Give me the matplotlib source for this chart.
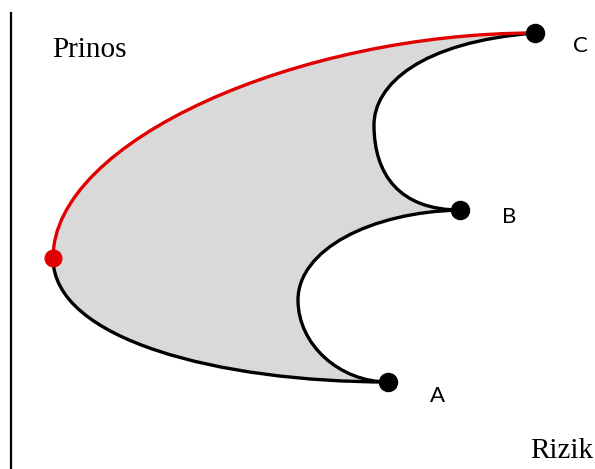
import matplotlib
matplotlib.use('Agg')
import matplotlib.pyplot as plt
from matplotlib.path import Path
from matplotlib.patches import PathPatch

# rizik (x) i prinos (y), procitano sa slike
assets = ['A', 'B', 'C']
asset_risk = [388, 460, 535]
asset_return = [87, 259, 436]
mv_risk = 53
mv_return = 211

# kontrolne tocke krivulja (kubni bezier: start, c1, c2, kraj)
upper_frontier = [[(53, 211), (53, 329), (300, 436), (535, 436)]]
lower_frontier = [[(53, 211), (53, 129), (220, 87), (388, 87)]]
ab_curve = [[(388, 87), (340, 87), (298, 124), (298, 169)],
            [(298, 169), (298, 219), (370, 257), (460, 259)]]
bc_curve = [[(460, 259), (400, 259), (374, 294), (374, 344)],
            [(374, 344), (374, 384), (420, 427), (535, 436)]]


def reverse(segs):
    return [seg[::-1] for seg in segs[::-1]]


def make_path(segs, close=False):
    verts = [segs[0][0]]
    codes = [Path.MOVETO]
    for seg in segs:
        verts += list(seg[1:])
        codes += [Path.CURVE4] * 3
    if close:
        verts.append(segs[0][0])
        codes.append(Path.CLOSEPOLY)
    return Path(verts, codes)


fig = plt.figure(figsize=(5.95, 4.69), dpi=100)
ax = fig.add_axes([0, 0, 1, 1])
ax.set_xlim(0, 595)
ax.set_ylim(0, 469)

# sivo podrucje
region = reverse(lower_frontier) + upper_frontier + reverse(bc_curve) + reverse(ab_curve)
ax.add_patch(PathPatch(make_path(region, close=True), facecolor='#d9d9d9',
                       edgecolor='none', zorder=1))

lw = 2.4
for segs in [lower_frontier, ab_curve, bc_curve]:
    ax.add_patch(PathPatch(make_path(segs), facecolor='none', edgecolor='black',
                           lw=lw, zorder=2, capstyle='round'))
ax.add_patch(PathPatch(make_path(upper_frontier), facecolor='none', edgecolor='#e00000',
                       lw=lw, zorder=3, capstyle='round'))

ax.plot(asset_risk, asset_return, 'o', color='black', markersize=13, zorder=4)
ax.plot([mv_risk], [mv_return], 'o', color='#e00000', markersize=12, zorder=4)

label_dx = [42, 42, 38]
label_dy = [-20, -13, -19]
for name, x, y, dx, dy in zip(assets, asset_risk, asset_return, label_dx, label_dy):
    ax.text(x + dx, y + dy, name, fontsize=16, family='Lato', va='baseline', ha='left')

ax.text(52, 412, 'Prinos', fontsize=21, family='Liberation Serif', va='baseline', ha='left')
ax.text(530, 11, 'Rizik', fontsize=21, family='Liberation Serif', va='baseline', ha='left')

for s in ['top', 'right', 'bottom']:
    ax.spines[s].set_visible(False)
ax.spines['left'].set_position(('data', 11))
ax.spines['left'].set_bounds(0, 456)
ax.spines['left'].set_linewidth(1.6)
ax.set_xticks([])
ax.set_yticks([])

plt.savefig('out.png', dpi=100)
